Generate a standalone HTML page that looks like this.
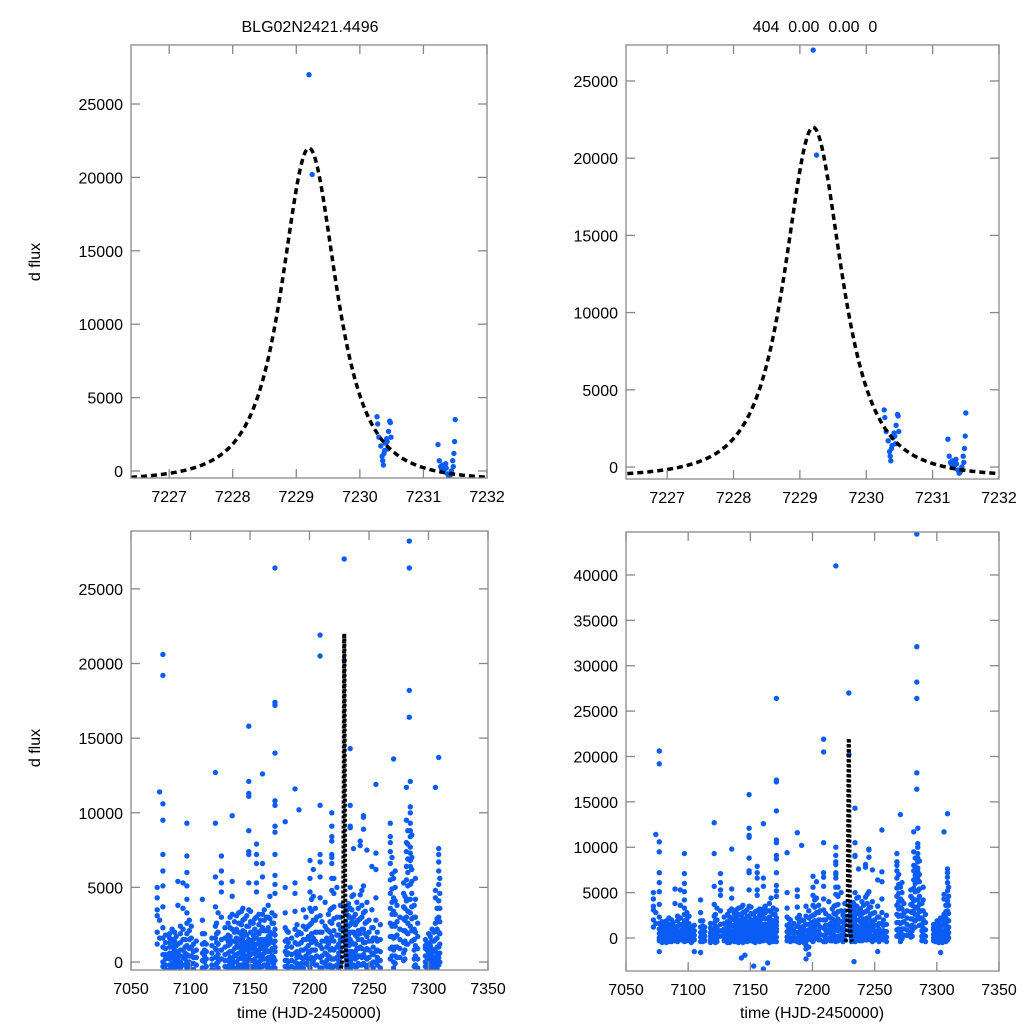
<!DOCTYPE html>
<html><head><meta charset="utf-8"><style>
html,body{margin:0;padding:0;background:#fff;}
svg{display:block;font-family:"Liberation Sans",Arial,sans-serif;}
</style></head><body>
<svg id="chart" width="1024" height="1024" viewBox="0 0 1024 1024">
<rect width="1024" height="1024" fill="#fff"/>
<text x="310" y="32" font-size="16" text-anchor="middle">BLG02N2421.4496</text>
<text x="815" y="32" font-size="16" text-anchor="middle" xml:space="preserve">404  0.00  0.00  0</text>
<text transform="translate(40,262) rotate(-90)" font-size="16" text-anchor="middle">d flux</text>
<text transform="translate(40,748) rotate(-90)" font-size="16" text-anchor="middle">d flux</text>
<text x="309" y="1018" font-size="16" text-anchor="middle">time (HJD-2450000)</text>
<text x="812" y="1018" font-size="16" text-anchor="middle">time (HJD-2450000)</text>
</svg>
<script>
// event (zoom) data points
const evT = [7229.2,7229.25,7230.27,7230.28,7230.3,7230.33,7230.35,7230.36,7230.37,7230.38,7230.39,7230.4,7230.42,7230.43,7230.44,7230.45,7230.47,7230.48,7230.49,
 7231.23,7231.25,7231.27,7231.28,7231.3,7231.33,7231.35,7231.36,7231.38,7231.4,7231.42,7231.44,7231.46,7231.47,7231.48,7231.49,7231.5];
const evF = [27000,20200,3700,3200,2300,1700,1000,700,400,1200,1400,1900,2200,2000,1500,2700,3400,3300,2300,
 1800,700,300,200,400,100,500,200,-200,-400,-300,0,700,300,1200,2000,3500];
// season data: night times and flux values (thousands)
const nightT = [7072.0,7074.0,7076.8,7082.4,7086.6,7089.4,7093.7,7097.0,7100.7,7104.9,7110.0,7113.3,7120.9,7123.2,7126.0,7131.6,7135.0,7138.6,7142.8,7145.6,7149.0,7152.7,7155.5,7160.5,7163.9,7166.7,7171.0,7179.6,7182.2,7187.8,7191.2,7194.8,7200.4,7203.2,7206.1,7208.9,7213.1,7215.9,7218.7,7223,
7233.4,7234.2,7237,7239.8,7242.6,7245.4,7248.2,7252.4,7255.8,7259.5,7267.9,7270.7,7273.5,7279.1,7281.4,7283.9,7284.7,7289,7290.9,7297.4,7300.2,7303,7305.8,7308.6];
const nightF = [
[5.0,4.3,3.5,3.1,2.0,1.2],
[11.4,2.8,1.6],
[20.6,19.2,10.6,9.5,7.2,6.1,5.1,3.7,2.3,1.6,1.0,0.5,0.0,-0.3,-1.5],
[1.6,1.0,0.6,0.2,-0.2,-0.5,1.9,1.3,0.4],
[2.0,1.4,0.8,0.4,0.0,-0.4,1.2,0.2],
[5.4,3.8,1.2,0.6,0.1,-0.3],
[5.3,3.6,2.2,1.5,0.8,0.3,-0.2],
[9.3,7.1,6.0,5.1,4.2,3.3,2.6,1.9,1.1,0.5,0.0,-0.4],
[2.4,1.6,1.0,0.4,-0.1],
[1.4,0.8,0.3,-0.2,-1.5],
[4.2,2.8,1.9,1.2,0.6,0.1,-0.4,-1.6],
[1.2,0.7,0.2,-0.3],
[12.7,9.3,5.7,3.7,2.4,1.6,0.9,0.3,-0.2],
[3.3,2.0,1.2,0.5,0.0,-0.4],
[7.1,6.1,5.3,4.7,3.0,1.5,0.8,0.2],
[2.6,1.8,1.1,0.6,0.1,-0.3,-0.5,1.4],
[9.8,5.4,4.4,3.2,2.2,1.4,0.7,0.2,-0.3],
[3.1,2.2,1.6,1.0,0.5,0.0,-0.4,1.3],
[3.4,2.5,1.8,1.2,0.7,0.3,-0.2,-2.2,1.5,0.9],
[2.9,2.0,1.3,0.8,0.3,-0.1,-1.9,1.0],
[15.8,12.1,11.3,11.1,8.8,7.4,7.2,5.3,3.5,2.4,1.5,0.8,0.2,-0.3,1.1,0.5],
[2.6,1.8,1.2,0.6,0.1,-0.4,-3.1,1.5,0.9],
[7.9,7.2,6.6,5.3,4.7,3.0,2.0,1.2,0.5,-0.1,1.6,0.8],
[12.6,6.6,5.7,3.2,2.3,1.5,0.9,0.3,-0.3,-3.4,1.2],
[3.0,2.1,1.4,0.8,0.2,-0.3,-2.75,1.1],
[4.4,2.9,2.0,1.3,0.7,0.1,-0.4,1.6],
[26.4,17.4,17.2,14.0,10.8,10.5,9.1,8.7,7.2,5.8,5.2,4.6,3.1,2.2,1.4,0.7,0.1,-0.4,1.8,1.0],
[9.4,5.0,3.3,2.3,1.4,0.7,0.1,-0.3],
[2.0,1.3,0.6,0.0,-0.4],
[11.6,5.3,4.6,3.4,2.2,1.3,0.6,0.0,-0.4],
[10.2,2.0,1.2,0.5,-0.2],
[3.5,2.4,1.5,0.8,0.2,-0.4,-1.2,-2.3,-0.8],
[6.8,5.6,4.7,3.6,2.5,1.5,0.7,0.0,-0.4],
[6.2,4.4,2.8,1.6,0.8,0.1],
[3.0,2.0,1.2,0.4,-0.2],
[21.9,20.5,10.5,7.2,6.7,5.7,4.3,3.1,2.0,1.1,0.3,-0.4],
[4.0,2.4,1.4,0.6,-0.1],
[3.2,2.1,1.2,0.4,-0.3],
[41.0,10.0,9.1,8.4,8.1,7.2,7.0,6.6,5.6,4.8,3.6,2.6,1.7,0.9,0.2,-0.4],
[5.0,3.0,1.8,1.0,0.3,-0.2],
[3.0,2.0,1.1,0.4,-0.3,-2.6,1.5],
[14.3,10.5,9.1,9.0,5.0,3.6,2.5,1.5,0.7,0.0,-0.4],
[7.6,4.5,3.0,2.0,1.2,0.5,-0.2],
[4.0,2.7,1.7,0.9,0.3,-0.3],
[8.1,7.8,4.5,2.9,1.9,1.0,0.4,-0.2],
[9.8,9.7,8.9,5.1,3.3,2.2,1.3,0.5,-0.1],
[7.5,4.0,2.7,1.7,0.9,0.2,-0.4],
[6.4,3.5,2.3,1.4,0.6,-0.1,-1.5],
[11.9,7.3,6.2,4.3,2.8,1.6,0.7,0.0],
[2.5,1.5,0.7,0.1,-0.4],
[9.3,8.4,8.0,7.4,6.6,5.5,4.6,3.6,2.6,1.7,0.9,0.2],
[13.6,5.6,4.3,3.4,2.5,1.6,0.8,0.0,-0.4],
[3.8,2.7,1.8,1.0,0.3],
[5.3,4.6,3.7,2.9,2.1,1.3,0.6,0.1],
[11.7,9.5,8.0,7.4,6.4,5.5,4.1,3.0,2.0,1.2],
[44.5,32.1,28.2,26.4,18.2,16.4],
[12.1,10.4,10.0,9.3,8.8,8.4,7.7,7.3,6.8,6.4,5.2,4.2,3.3,2.4],
[5.6,4.2,3.0,2.0,1.1,0.4,-0.2],
[2.6,1.7,0.9,0.2,-0.4],
[1.5,0.9,0.4,0.0,-0.3,1.1],
[1.9,1.2,0.6,0.1,-0.4,0.9],
[2.2,1.4,0.7,0.1,-0.4,-1.6],
[11.7,4.8,4.3,2.6,1.5,0.7,0.1,-0.3],
[13.7,7.6,7.2,6.7,6.1,5.2,4.1,3.0,2.0,1.0,0.3,-0.2]
];
// additional low-level nights (flux in thousands)
const extraT = [7079,7084.5,7088,7091.5,7095.5,7099,7102.5,7111.8,7118,7121.9,7129,7133.3,7137,7140.5,7144,7147.3,7150.5,7154,7157.5,7159,7162,7165.3,7168.5,7169.8,7181,7185,7189.5,7193,7197,7199,7201.8,7205,7210.5,7214.5,7217.3,7220.5,7224.5,7226,7232.8,7235.6,7238.5,7241,7244,7246.8,7250,7253.5,7257,7269.3,7272,7276,7280.2,7282.6,7286,7288,7298.8,7301.5,7302.5,7304.5,7307.2,7309.5];
const extraF = [
[1.8,1.3,0.9,0.5,0.2,-0.2,-0.5],
[2.2,1.5,1.0,0.6,0.3,-0.1,-0.4],
[1.7,1.1,0.7,0.3,0.0,-0.3],
[2.4,1.9,1.3,0.8,0.4,0.0,-0.4],
[1.5,1.0,0.6,0.2,-0.2],
[2.8,2.1,1.5,0.9,0.4,0.0,-0.3],
[1.2,0.7,0.3,-0.1,-0.5],
[1.9,1.3,0.8,0.4,0.0,-0.4],
[1.6,1.1,0.6,0.2,-0.2,-0.5],
[2.6,1.9,1.3,0.8,0.3,-0.1,-0.5],
[2.3,1.6,1.0,0.5,0.1,-0.3],
[3.0,2.3,1.7,1.2,0.7,0.3,-0.1,-0.5],
[2.7,2.0,1.4,0.9,0.4,0.0,-0.4],
[3.3,2.6,2.0,1.5,1.0,0.6,0.2,-0.2,-0.5],
[3.6,2.8,2.1,1.6,1.1,0.6,0.2,-0.2,-0.5],
[3.1,2.4,1.8,1.3,0.8,0.4,0.0,-0.4],
[3.4,2.7,2.0,1.4,0.9,0.5,0.1,-0.3],
[2.9,2.2,1.6,1.1,0.6,0.2,-0.2,-0.5],
[3.2,2.5,1.9,1.3,0.8,0.4,0.0,-0.4],
[2.8,2.1,1.5,1.0,0.5,0.1,-0.3],
[3.5,2.8,2.1,1.5,1.0,0.6,0.2,-0.2],
[3.8,3.0,2.3,1.7,1.2,0.7,0.3,-0.1,-0.5],
[3.3,2.6,1.9,1.4,0.9,0.4,0.0,-0.4],
[2.6,1.9,1.3,0.8,0.3,-0.1],
[2.1,1.5,1.0,0.5,0.1,-0.3],
[1.6,1.0,0.5,0.1,-0.3],
[2.5,1.8,1.2,0.7,0.3,-0.1,-0.5],
[1.9,1.3,0.8,0.3,-0.1,-0.5],
[3.0,2.2,1.5,0.9,0.4,-0.1,-1.0,-1.8],
[2.4,1.7,1.1,0.6,0.2,-0.2],
[4.2,3.4,2.6,1.9,1.3,0.8,0.3,-0.1],
[3.6,2.8,2.0,1.4,0.8,0.3,-0.2],
[2.7,2.0,1.4,0.9,0.4,0.0,-0.4],
[2.2,1.6,1.0,0.5,0.1,-0.3],
[3.5,2.7,2.0,1.4,0.8,0.3,-0.2],
[5.6,4.6,3.7,2.9,2.1,1.4,0.8,0.2,-0.3],
[2.5,1.8,1.2,0.6,0.1,-0.4],
[3.8,3.0,2.2,1.5,0.9,0.3,-0.2],
[3.9,3.1,2.4,1.8,1.2,0.7,0.2,-0.3],
[4.4,3.5,2.7,2.0,1.3,0.7,0.2,-0.3],
[3.2,2.5,1.8,1.2,0.7,0.2,-0.3],
[3.6,2.8,2.1,1.5,0.9,0.4,-0.1],
[4.8,3.8,3.0,2.2,1.5,0.9,0.3,-0.2],
[3.4,2.6,1.9,1.3,0.8,0.3,-0.2],
[2.8,2.0,1.4,0.8,0.3,-0.2],
[2.3,1.6,1.0,0.5,0.0,-0.4],
[2.0,1.4,0.8,0.3,-0.2],
[7.0,5.9,4.9,4.0,3.2,2.4,1.7,1.0,0.4],
[6.1,5.0,4.1,3.2,2.4,1.7,1.0,0.4,-0.1],
[3.0,2.2,1.5,0.9,0.3],
[4.4,3.6,2.8,2.1,1.4,0.8,0.2],
[8.8,7.9,6.9,6.0,5.1,4.2,3.4,2.6,1.9,1.2],
[8.5,7.0,6.2,5.4,4.6,3.7,2.9,2.1,1.4],
[3.8,3.0,2.2,1.5,0.8,0.2,-0.3],
[1.3,0.8,0.3,-0.1,-0.4],
[1.7,1.1,0.6,0.2,-0.2,-0.5],
[1.4,0.9,0.5,0.1,-0.3],
[2.0,1.4,0.8,0.3,-0.1,-0.5],
[3.6,2.9,2.2,1.6,1.0,0.5,0.0,-0.4],
[5.6,4.6,3.6,2.7,1.9,1.2,0.6,0.0]
];
// model parameters: t0, peak, baseline, width, power
const modelParams = [7229.2, 22000, -700, 0.66, 1.5];
const zoomXTicks = [7227,7228,7229,7230,7231,7232];
const fullXTicks = [7050,7100,7150,7200,7250,7300,7350];
const yTicksA = [0,5000,10000,15000,20000,25000];
const yTicksB = [0,5000,10000,15000,20000,25000,30000,35000,40000];

const NS = 'http://www.w3.org/2000/svg';
const svg = document.getElementById('chart');
function mk(tag, attrs, parent){const e=document.createElementNS(NS,tag);for(const k in attrs)e.setAttribute(k,attrs[k]);(parent||svg).appendChild(e);return e;}
function scale(d0,d1,p0,p1){return v=>p0+(v-d0)*(p1-p0)/(d1-d0);}
function model(t){const [t0,pk,b,w,p]=modelParams;const x=(t-t0)/w;return b+(pk-b)*Math.pow(1+x*x,-p);}

const panels = [
 {name:'top-left', x0:131,x1:487,y0:45,y1:478, xd:[7226.4,7232], yd:[-477,29020], xt:zoomXTicks, yt:yTicksA, dash:'6 4', lw:3.5},
 {name:'top-right', x0:626,x1:999,y0:45,y1:479, xd:[7226.38,7232], yd:[-777,27330], xt:zoomXTicks, yt:yTicksA, dash:'6 4', lw:3.5},
 {name:'bottom-left', x0:131,x1:488,y0:531,y1:970, xd:[7050,7350], yd:[-535,28877], xt:fullXTicks, yt:yTicksA, dash:'3 2', lw:4},
 {name:'bottom-right', x0:626,x1:999,y0:532,y1:971, xd:[7050,7350], yd:[-3636,44736], xt:fullXTicks, yt:yTicksB, dash:'3 2', lw:4}
];

panels.forEach((P,i)=>{
 const sx=scale(P.xd[0],P.xd[1],P.x0,P.x1), sy=scale(P.yd[0],P.yd[1],P.y1,P.y0);
 const g=mk('g',{});
 
 
 const cid='clip'+i;
 const cp=mk('clipPath',{id:cid},g);
 mk('rect',{x:P.x0,y:P.y0,width:P.x1-P.x0,height:P.y1-P.y0},cp);
 const pts=mk('g',{'clip-path':'url(#'+cid+')',fill:'#0a5cf5'},g);
 
 
 const r = 2.7;
 function addSet(T,F){T.forEach((t,k)=>{F[k].forEach(v=>{
   const c=mk('circle',{cx:sx(t).toFixed(1),cy:sy(v*1000).toFixed(1),r:r},pts);
   
   
 });});}
 addSet(nightT,nightF);
 addSet(extraT,extraF);
 evT.forEach((t,k)=>{
   const c=mk('circle',{cx:sx(t).toFixed(1),cy:sy(evF[k]).toFixed(1),r:r},pts);
   
   
 });
 let d='';const n=400;
 for(let j=0;j<=n;j++){const tt=7226.4+(7232-7226.4)*j/n;
   d+=(j?'L':'M')+sx(tt).toFixed(2)+','+sy(model(tt)).toFixed(2);}
 const m=mk('path',{d:d,fill:'none',stroke:'#000','stroke-width':P.lw,'stroke-dasharray':P.dash,'clip-path':'url(#'+cid+')'},g);
 
 
 const f=mk('rect',{x:P.x0,y:P.y0,width:P.x1-P.x0,height:P.y1-P.y0,fill:'none',stroke:'#888','stroke-width':1.3},g);
 
 
 P.xt.forEach(v=>{const x=sx(v);
   mk('line',{x1:x,x2:x,y1:P.y1,y2:P.y1-9,stroke:'#888','stroke-width':1.3},g);
   mk('line',{x1:x,x2:x,y1:P.y0,y2:P.y0+9,stroke:'#888','stroke-width':1.3},g);
   const tx=mk('text',{x:x,y:P.y1+24,'font-size':16,'text-anchor':'middle'},g);tx.textContent=v;
   
   
 });
 P.yt.forEach(v=>{const y=sy(v);
   mk('line',{x1:P.x0,x2:P.x0+9,y1:y,y2:y,stroke:'#888','stroke-width':1.3},g);
   mk('line',{x1:P.x1,x2:P.x1-9,y1:y,y2:y,stroke:'#888','stroke-width':1.3},g);
   const tx=mk('text',{x:P.x0-8,y:y+6,'font-size':16,'text-anchor':'end'},g);tx.textContent=v;
   
   
 });
});
</script>
</body></html>
